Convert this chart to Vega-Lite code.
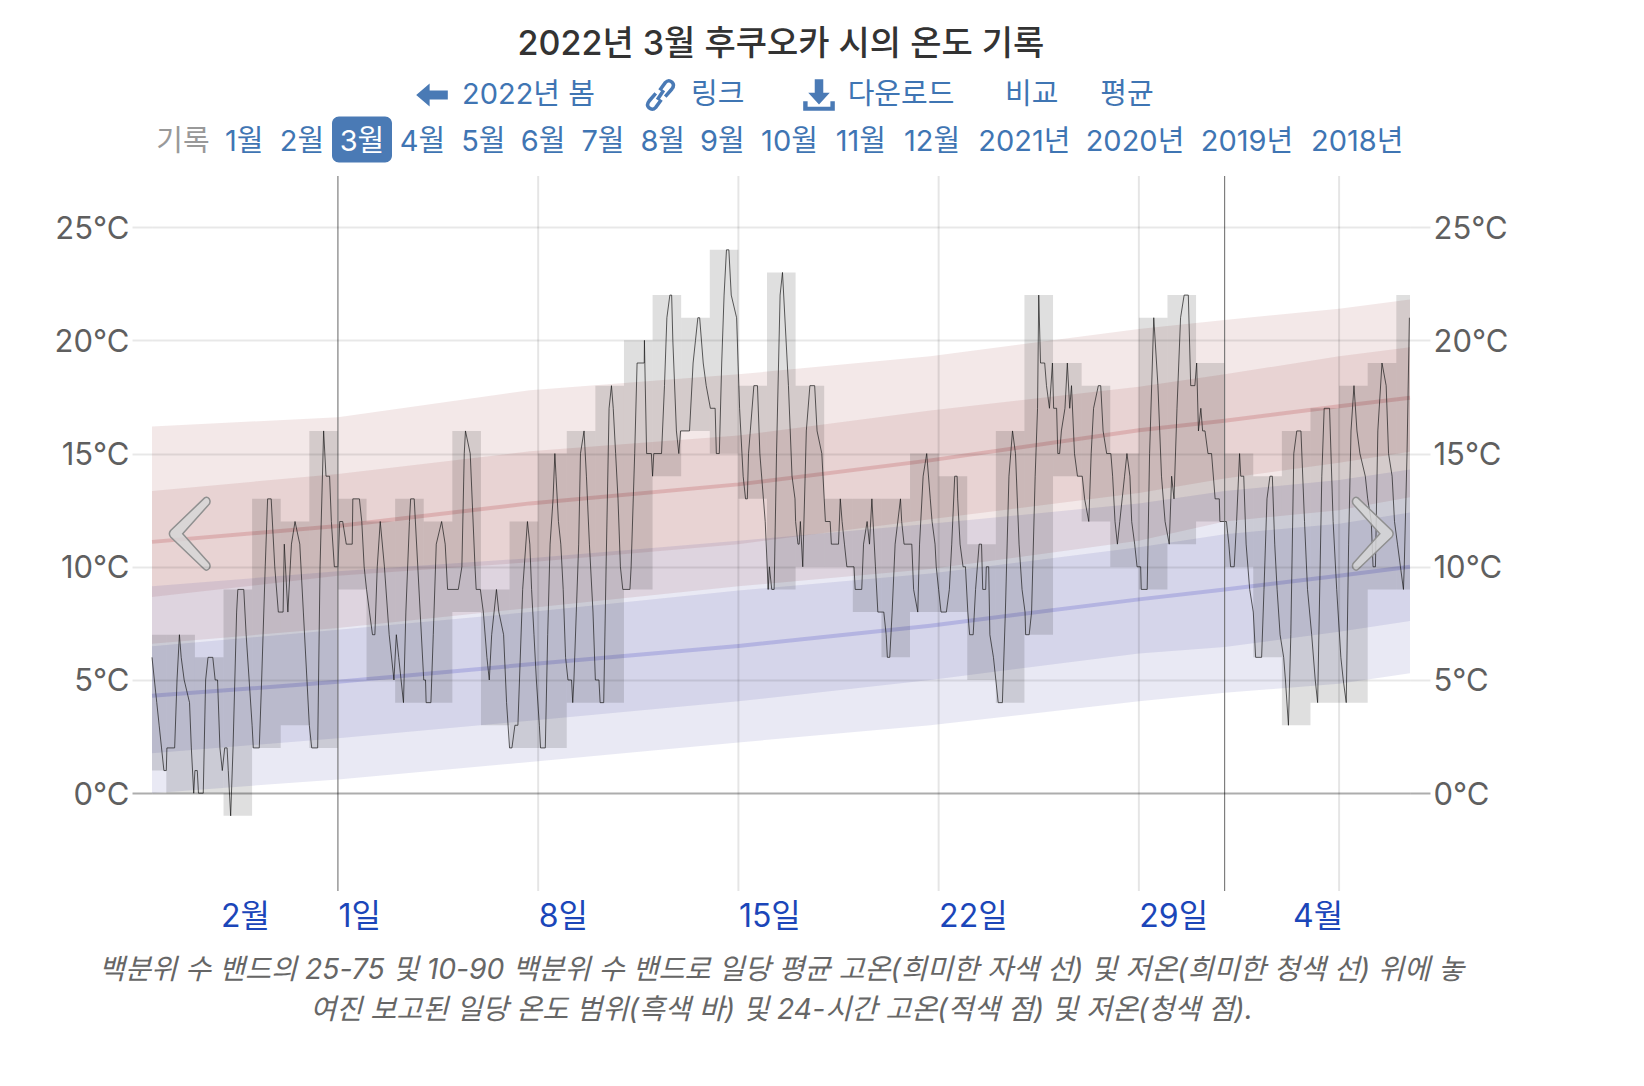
{"$schema":"https://vega.github.io/schema/vega-lite/v6.json","width":1258,"height":715,"autosize":"none","padding":{"left":152,"top":176,"right":234,"bottom":195},"background":"white","config":{"view":{"stroke":null}},
"title":{"text":"2022년 3월 후쿠오카 시의 온도 기록","font":"Inter, Noto Sans CJK KR","fontSize":34,"fontWeight":500,"color":"#333333","anchor":"middle","offset":12},
"datasets":{
"bands":[
{"t":"2022-02-22T12:00","hi10":6.6,"hi25":8.66,"hi50":11.1,"hi75":13.35,"hi90":16.2,"lo10":0,"lo25":1.76,"lo50":4.3,"lo75":6.49,"lo90":9.14},
{"t":"2022-03-01T00:00","hi10":7.3,"hi25":9.6,"hi50":11.8,"hi75":14.1,"hi90":16.6,"lo10":0.61,"lo25":2.43,"lo50":4.92,"lo75":7.22,"lo90":9.8},
{"t":"2022-03-07T17:00","hi10":8.18,"hi25":10.2,"hi50":12.8,"hi75":15.1,"hi90":17.8,"lo10":1.38,"lo25":3.2,"lo50":5.69,"lo75":8.0,"lo90":10.38},
{"t":"2022-03-15T00:00","hi10":9.14,"hi25":11.0,"hi50":13.64,"hi75":15.8,"hi90":18.5,"lo10":2.24,"lo25":4.06,"lo50":6.5,"lo75":8.95,"lo90":11.15},
{"t":"2022-03-21T17:00","hi10":9.9,"hi25":12.1,"hi50":14.7,"hi75":16.9,"hi90":19.3,"lo10":3.0,"lo25":5.0,"lo50":7.4,"lo75":9.7,"lo90":11.9},
{"t":"2022-03-29T00:00","hi10":11.15,"hi25":13.26,"hi50":16.03,"hi75":17.95,"hi90":20.5,"lo10":4.06,"lo25":6.17,"lo50":8.56,"lo75":10.86,"lo90":12.8},
{"t":"2022-04-01T00:00","hi10":12.0,"hi25":13.9,"hi50":16.45,"hi75":18.5,"hi90":20.9,"lo10":4.44,"lo25":6.46,"lo50":9.0,"lo75":11.44,"lo90":13.35},
{"t":"2022-04-05T00:00","hi10":12.5,"hi25":14.6,"hi50":17.09,"hi75":19.3,"hi90":21.4,"lo10":4.83,"lo25":7.13,"lo50":9.6,"lo75":11.9,"lo90":13.83},
{"t":"2022-04-07T11:30","hi10":13.07,"hi25":15.08,"hi50":17.47,"hi75":19.7,"hi90":21.8,"lo10":5.3,"lo25":7.6,"lo50":10.0,"lo75":12.4,"lo90":14.3}
],
"days":[
{"start":"2022-02-22T12:00","end":"2022-02-23T00:00","low":1,"high":7},
{"start":"2022-02-23T00:00","end":"2022-02-24T00:00","low":0,"high":7},
{"start":"2022-02-24T00:00","end":"2022-02-25T00:00","low":0,"high":6},
{"start":"2022-02-25T00:00","end":"2022-02-26T00:00","low":-1,"high":9},
{"start":"2022-02-26T00:00","end":"2022-02-27T00:00","low":2,"high":13},
{"start":"2022-02-27T00:00","end":"2022-02-28T00:00","low":3,"high":12},
{"start":"2022-02-28T00:00","end":"2022-03-01T00:00","low":2,"high":16},
{"start":"2022-03-01T00:00","end":"2022-03-02T00:00","low":9,"high":13},
{"start":"2022-03-02T00:00","end":"2022-03-03T00:00","low":5,"high":12},
{"start":"2022-03-03T00:00","end":"2022-03-04T00:00","low":4,"high":13},
{"start":"2022-03-04T00:00","end":"2022-03-05T00:00","low":4,"high":12},
{"start":"2022-03-05T00:00","end":"2022-03-06T00:00","low":8,"high":16},
{"start":"2022-03-06T00:00","end":"2022-03-07T00:00","low":3,"high":9},
{"start":"2022-03-07T00:00","end":"2022-03-08T00:00","low":2,"high":12},
{"start":"2022-03-08T00:00","end":"2022-03-09T00:00","low":2,"high":15},
{"start":"2022-03-09T00:00","end":"2022-03-10T00:00","low":4,"high":16},
{"start":"2022-03-10T00:00","end":"2022-03-11T00:00","low":4,"high":18},
{"start":"2022-03-11T00:00","end":"2022-03-12T00:00","low":9,"high":20},
{"start":"2022-03-12T00:00","end":"2022-03-13T00:00","low":14,"high":22},
{"start":"2022-03-13T00:00","end":"2022-03-14T00:00","low":16,"high":21},
{"start":"2022-03-14T00:00","end":"2022-03-15T00:00","low":15,"high":24},
{"start":"2022-03-15T00:00","end":"2022-03-16T00:00","low":13,"high":18},
{"start":"2022-03-16T00:00","end":"2022-03-17T00:00","low":9,"high":23},
{"start":"2022-03-17T00:00","end":"2022-03-18T00:00","low":10,"high":18},
{"start":"2022-03-18T00:00","end":"2022-03-19T00:00","low":10,"high":13},
{"start":"2022-03-19T00:00","end":"2022-03-20T00:00","low":8,"high":13},
{"start":"2022-03-20T00:00","end":"2022-03-21T00:00","low":6,"high":13},
{"start":"2022-03-21T00:00","end":"2022-03-22T00:00","low":8,"high":15},
{"start":"2022-03-22T00:00","end":"2022-03-23T00:00","low":8,"high":14},
{"start":"2022-03-23T00:00","end":"2022-03-24T00:00","low":5,"high":11},
{"start":"2022-03-24T00:00","end":"2022-03-25T00:00","low":4,"high":16},
{"start":"2022-03-25T00:00","end":"2022-03-26T00:00","low":7,"high":22},
{"start":"2022-03-26T00:00","end":"2022-03-27T00:00","low":14,"high":19},
{"start":"2022-03-27T00:00","end":"2022-03-28T00:00","low":12,"high":18},
{"start":"2022-03-28T00:00","end":"2022-03-29T00:00","low":10,"high":15},
{"start":"2022-03-29T00:00","end":"2022-03-30T00:00","low":9,"high":21},
{"start":"2022-03-30T00:00","end":"2022-03-31T00:00","low":11,"high":22},
{"start":"2022-03-31T00:00","end":"2022-04-01T00:00","low":12,"high":19},
{"start":"2022-04-01T00:00","end":"2022-04-02T00:00","low":10,"high":15},
{"start":"2022-04-02T00:00","end":"2022-04-03T00:00","low":6,"high":14},
{"start":"2022-04-03T00:00","end":"2022-04-04T00:00","low":3,"high":16},
{"start":"2022-04-04T00:00","end":"2022-04-05T00:00","low":4,"high":17},
{"start":"2022-04-05T00:00","end":"2022-04-06T00:00","low":4,"high":18},
{"start":"2022-04-06T00:00","end":"2022-04-07T00:00","low":9,"high":19},
{"start":"2022-04-07T00:00","end":"2022-04-07T11:30","low":9,"high":22}
],
"hourly":[
{"t":"2022-02-22T12:00","v":6},{"t":"2022-02-22T14:00","v":5},{"t":"2022-02-22T16:00","v":4},{"t":"2022-02-22T18:00","v":3},{"t":"2022-02-22T20:00","v":2},{"t":"2022-02-22T22:00","v":1},
{"t":"2022-02-23T00:00","v":1},{"t":"2022-02-23T00:30","v":2},{"t":"2022-02-23T07:00","v":2},{"t":"2022-02-23T09:00","v":5},{"t":"2022-02-23T11:00","v":7},{"t":"2022-02-23T12:30","v":6},{"t":"2022-02-23T15:00","v":5},{"t":"2022-02-23T19:30","v":4},{"t":"2022-02-23T21:00","v":2},{"t":"2022-02-23T23:00","v":0},
{"t":"2022-02-24T00:00","v":1},{"t":"2022-02-24T02:00","v":1},{"t":"2022-02-24T03:00","v":0},{"t":"2022-02-24T07:00","v":0},{"t":"2022-02-24T09:00","v":5},{"t":"2022-02-24T11:00","v":6},{"t":"2022-02-24T15:00","v":6},{"t":"2022-02-24T17:00","v":5},{"t":"2022-02-24T19:00","v":5},{"t":"2022-02-24T21:00","v":2},{"t":"2022-02-24T23:00","v":1},
{"t":"2022-02-25T01:00","v":2},{"t":"2022-02-25T03:00","v":2},{"t":"2022-02-25T04:00","v":1},{"t":"2022-02-25T06:00","v":-1},{"t":"2022-02-25T08:00","v":2},{"t":"2022-02-25T11:00","v":8},{"t":"2022-02-25T12:00","v":9},{"t":"2022-02-25T17:00","v":9},{"t":"2022-02-25T19:00","v":7},{"t":"2022-02-25T21:30","v":5},
{"t":"2022-02-26T00:00","v":3},{"t":"2022-02-26T01:00","v":2},{"t":"2022-02-26T06:00","v":2},{"t":"2022-02-26T08:00","v":5},{"t":"2022-02-26T11:00","v":10},{"t":"2022-02-26T13:00","v":13},{"t":"2022-02-26T16:00","v":13},{"t":"2022-02-26T19:00","v":10},{"t":"2022-02-26T22:00","v":8},
{"t":"2022-02-27T02:00","v":8},{"t":"2022-02-27T03:00","v":11},{"t":"2022-02-27T06:00","v":8},{"t":"2022-02-27T09:00","v":11},{"t":"2022-02-27T12:00","v":12},{"t":"2022-02-27T16:00","v":11},{"t":"2022-02-27T19:00","v":8},{"t":"2022-02-27T22:00","v":5},
{"t":"2022-02-28T00:00","v":3},{"t":"2022-02-28T02:00","v":2},{"t":"2022-02-28T07:00","v":2},{"t":"2022-02-28T09:00","v":10},{"t":"2022-02-28T12:00","v":16},{"t":"2022-02-28T14:00","v":14},{"t":"2022-02-28T17:00","v":14},{"t":"2022-02-28T18:30","v":12},{"t":"2022-02-28T21:00","v":10},
{"t":"2022-03-01T00:00","v":10},{"t":"2022-03-01T01:30","v":12},{"t":"2022-03-01T04:00","v":12},{"t":"2022-03-01T07:00","v":11},{"t":"2022-03-01T12:00","v":11},{"t":"2022-03-01T12:30","v":13},{"t":"2022-03-01T18:00","v":13},{"t":"2022-03-01T20:00","v":12},{"t":"2022-03-01T22:00","v":10},
{"t":"2022-03-02T00:00","v":9},{"t":"2022-03-02T02:30","v":8},{"t":"2022-03-02T05:00","v":7},{"t":"2022-03-02T07:00","v":7},{"t":"2022-03-02T09:00","v":10},{"t":"2022-03-02T11:30","v":12},{"t":"2022-03-02T15:00","v":10},{"t":"2022-03-02T19:00","v":7},{"t":"2022-03-02T23:00","v":5},
{"t":"2022-03-03T01:00","v":7},{"t":"2022-03-03T03:00","v":6},{"t":"2022-03-03T07:00","v":4},{"t":"2022-03-03T09:00","v":8},{"t":"2022-03-03T12:00","v":12},{"t":"2022-03-03T13:00","v":13},{"t":"2022-03-03T16:00","v":13},{"t":"2022-03-03T19:00","v":10},
{"t":"2022-03-04T00:00","v":5},{"t":"2022-03-04T01:30","v":5},{"t":"2022-03-04T02:00","v":4},{"t":"2022-03-04T06:00","v":4},{"t":"2022-03-04T08:00","v":7},{"t":"2022-03-04T10:30","v":11},{"t":"2022-03-04T15:00","v":12},{"t":"2022-03-04T18:00","v":11},{"t":"2022-03-04T20:00","v":9},
{"t":"2022-03-05T05:00","v":9},{"t":"2022-03-05T08:00","v":10},{"t":"2022-03-05T10:00","v":15},{"t":"2022-03-05T11:00","v":16},{"t":"2022-03-05T15:00","v":15},{"t":"2022-03-05T19:00","v":10},{"t":"2022-03-05T20:00","v":9},{"t":"2022-03-05T23:30","v":9},
{"t":"2022-03-06T02:00","v":8},{"t":"2022-03-06T05:00","v":6},{"t":"2022-03-06T07:00","v":5},{"t":"2022-03-06T09:00","v":7},{"t":"2022-03-06T13:00","v":9},{"t":"2022-03-06T15:00","v":8},{"t":"2022-03-06T19:00","v":7},{"t":"2022-03-06T21:30","v":4},
{"t":"2022-03-07T00:00","v":2},{"t":"2022-03-07T02:00","v":2},{"t":"2022-03-07T04:30","v":3},{"t":"2022-03-07T07:00","v":3},{"t":"2022-03-07T11:00","v":9},{"t":"2022-03-07T15:00","v":12},{"t":"2022-03-07T17:00","v":11},{"t":"2022-03-07T18:30","v":9},{"t":"2022-03-07T20:30","v":7},{"t":"2022-03-07T22:30","v":5},
{"t":"2022-03-08T01:00","v":3},{"t":"2022-03-08T02:00","v":2},{"t":"2022-03-08T06:00","v":2},{"t":"2022-03-08T08:00","v":7},{"t":"2022-03-08T10:00","v":11},{"t":"2022-03-08T12:30","v":13},{"t":"2022-03-08T14:00","v":15},{"t":"2022-03-08T15:00","v":14},{"t":"2022-03-08T17:00","v":12},{"t":"2022-03-08T19:00","v":11},{"t":"2022-03-08T21:00","v":9},{"t":"2022-03-08T23:00","v":6},
{"t":"2022-03-09T01:00","v":5},{"t":"2022-03-09T04:00","v":5},{"t":"2022-03-09T05:00","v":4},{"t":"2022-03-09T06:00","v":5},{"t":"2022-03-09T08:00","v":8},{"t":"2022-03-09T10:00","v":11},{"t":"2022-03-09T11:30","v":15},{"t":"2022-03-09T14:30","v":16},{"t":"2022-03-09T16:30","v":14},{"t":"2022-03-09T19:00","v":11},{"t":"2022-03-09T22:00","v":8},
{"t":"2022-03-10T00:00","v":5},{"t":"2022-03-10T03:00","v":5},{"t":"2022-03-10T04:00","v":4},{"t":"2022-03-10T07:00","v":4},{"t":"2022-03-10T09:00","v":10},{"t":"2022-03-10T11:30","v":17},{"t":"2022-03-10T13:30","v":18},{"t":"2022-03-10T15:00","v":17},{"t":"2022-03-10T17:00","v":15},{"t":"2022-03-10T19:00","v":13},{"t":"2022-03-10T21:00","v":10},{"t":"2022-03-10T23:00","v":9},
{"t":"2022-03-11T05:00","v":9},{"t":"2022-03-11T06:00","v":10},{"t":"2022-03-11T09:00","v":15},{"t":"2022-03-11T11:00","v":19},{"t":"2022-03-11T17:00","v":19},{"t":"2022-03-11T17:10","v":20},{"t":"2022-03-11T17:30","v":19},{"t":"2022-03-11T19:00","v":15},{"t":"2022-03-11T23:00","v":15},
{"t":"2022-03-12T00:00","v":14},{"t":"2022-03-12T01:00","v":15},{"t":"2022-03-12T07:30","v":15},{"t":"2022-03-12T10:00","v":18},{"t":"2022-03-12T12:00","v":21},{"t":"2022-03-12T14:30","v":22},{"t":"2022-03-12T16:00","v":22},{"t":"2022-03-12T17:00","v":20},{"t":"2022-03-12T20:00","v":16},{"t":"2022-03-12T22:00","v":15},{"t":"2022-03-12T23:30","v":16},
{"t":"2022-03-13T07:00","v":16},{"t":"2022-03-13T10:00","v":19},{"t":"2022-03-13T12:00","v":20},{"t":"2022-03-13T14:00","v":21},{"t":"2022-03-13T15:30","v":21},{"t":"2022-03-13T18:30","v":19},{"t":"2022-03-13T21:00","v":18},
{"t":"2022-03-14T00:30","v":17},{"t":"2022-03-14T04:30","v":17},{"t":"2022-03-14T05:30","v":15},{"t":"2022-03-14T08:00","v":15},{"t":"2022-03-14T10:00","v":19},{"t":"2022-03-14T12:00","v":22},{"t":"2022-03-14T14:00","v":24},{"t":"2022-03-14T16:00","v":24},{"t":"2022-03-14T18:00","v":22},{"t":"2022-03-14T22:30","v":21},
{"t":"2022-03-15T01:00","v":17},{"t":"2022-03-15T03:00","v":15},{"t":"2022-03-15T04:00","v":14},{"t":"2022-03-15T06:00","v":13},{"t":"2022-03-15T07:30","v":13},{"t":"2022-03-15T08:30","v":15},{"t":"2022-03-15T10:00","v":16},{"t":"2022-03-15T13:00","v":18},{"t":"2022-03-15T16:00","v":18},{"t":"2022-03-15T18:00","v":15},{"t":"2022-03-15T21:00","v":13},{"t":"2022-03-15T22:30","v":12},
{"t":"2022-03-16T01:00","v":9},{"t":"2022-03-16T02:00","v":10},{"t":"2022-03-16T04:00","v":9},{"t":"2022-03-16T06:00","v":9},{"t":"2022-03-16T08:00","v":15},{"t":"2022-03-16T11:00","v":22},{"t":"2022-03-16T13:00","v":23},{"t":"2022-03-16T16:00","v":20},{"t":"2022-03-16T18:00","v":18},{"t":"2022-03-16T21:00","v":14},{"t":"2022-03-16T23:30","v":13},
{"t":"2022-03-17T00:00","v":12},{"t":"2022-03-17T02:00","v":11},{"t":"2022-03-17T03:00","v":11},{"t":"2022-03-17T04:00","v":12},{"t":"2022-03-17T06:00","v":10},{"t":"2022-03-17T08:00","v":14},{"t":"2022-03-17T09:00","v":16},{"t":"2022-03-17T12:00","v":18},{"t":"2022-03-17T16:00","v":18},{"t":"2022-03-17T18:00","v":16},{"t":"2022-03-17T22:00","v":15},
{"t":"2022-03-18T00:00","v":13},{"t":"2022-03-18T01:00","v":12},{"t":"2022-03-18T05:00","v":12},{"t":"2022-03-18T06:00","v":11},{"t":"2022-03-18T12:00","v":11},{"t":"2022-03-18T13:30","v":13},{"t":"2022-03-18T15:00","v":12},{"t":"2022-03-18T17:00","v":11},{"t":"2022-03-18T19:00","v":10},
{"t":"2022-03-19T01:00","v":10},{"t":"2022-03-19T02:00","v":9},{"t":"2022-03-19T07:30","v":9},{"t":"2022-03-19T09:00","v":11},{"t":"2022-03-19T12:00","v":12},{"t":"2022-03-19T14:00","v":11},{"t":"2022-03-19T16:00","v":13},{"t":"2022-03-19T19:00","v":10},{"t":"2022-03-19T21:00","v":8},
{"t":"2022-03-20T02:00","v":8},{"t":"2022-03-20T04:00","v":7},{"t":"2022-03-20T05:00","v":6},{"t":"2022-03-20T07:00","v":6},{"t":"2022-03-20T09:00","v":8},{"t":"2022-03-20T11:30","v":11},{"t":"2022-03-20T16:00","v":13},{"t":"2022-03-20T17:00","v":12},{"t":"2022-03-20T19:00","v":11},
{"t":"2022-03-21T01:30","v":11},{"t":"2022-03-21T03:00","v":9},{"t":"2022-03-21T06:30","v":8},{"t":"2022-03-21T08:00","v":11},{"t":"2022-03-21T11:00","v":14},{"t":"2022-03-21T14:00","v":15},{"t":"2022-03-21T17:00","v":13},{"t":"2022-03-21T18:30","v":12},{"t":"2022-03-21T21:00","v":11},{"t":"2022-03-21T22:00","v":10},
{"t":"2022-03-22T00:00","v":9},{"t":"2022-03-22T02:00","v":8},{"t":"2022-03-22T06:30","v":8},{"t":"2022-03-22T09:00","v":9},{"t":"2022-03-22T11:00","v":11},{"t":"2022-03-22T13:30","v":14},{"t":"2022-03-22T15:30","v":14},{"t":"2022-03-22T16:00","v":13},{"t":"2022-03-22T18:00","v":11},{"t":"2022-03-22T20:30","v":10},{"t":"2022-03-22T22:30","v":10},
{"t":"2022-03-23T00:30","v":8},{"t":"2022-03-23T02:00","v":7},{"t":"2022-03-23T05:00","v":7},{"t":"2022-03-23T07:00","v":9},{"t":"2022-03-23T10:00","v":11},{"t":"2022-03-23T12:00","v":11},{"t":"2022-03-23T13:00","v":9},{"t":"2022-03-23T15:30","v":9},{"t":"2022-03-23T16:00","v":10},{"t":"2022-03-23T18:00","v":10},{"t":"2022-03-23T19:00","v":7},{"t":"2022-03-23T22:00","v":6},
{"t":"2022-03-24T00:00","v":5},{"t":"2022-03-24T02:00","v":4},{"t":"2022-03-24T05:30","v":4},{"t":"2022-03-24T08:00","v":8},{"t":"2022-03-24T11:00","v":14},{"t":"2022-03-24T14:00","v":16},{"t":"2022-03-24T16:30","v":15},{"t":"2022-03-24T19:30","v":11},{"t":"2022-03-24T22:00","v":9},
{"t":"2022-03-25T00:30","v":8},{"t":"2022-03-25T01:00","v":7},{"t":"2022-03-25T04:00","v":7},{"t":"2022-03-25T06:00","v":8},{"t":"2022-03-25T09:00","v":14},{"t":"2022-03-25T11:00","v":17},{"t":"2022-03-25T12:00","v":22},{"t":"2022-03-25T13:30","v":19},{"t":"2022-03-25T17:00","v":19},{"t":"2022-03-25T18:30","v":18},{"t":"2022-03-25T21:00","v":17},{"t":"2022-03-25T23:30","v":19},
{"t":"2022-03-26T00:30","v":17},{"t":"2022-03-26T03:00","v":17},{"t":"2022-03-26T04:00","v":15},{"t":"2022-03-26T05:30","v":15},{"t":"2022-03-26T07:00","v":16},{"t":"2022-03-26T10:00","v":17},{"t":"2022-03-26T12:00","v":19},{"t":"2022-03-26T14:00","v":17},{"t":"2022-03-26T15:30","v":18},{"t":"2022-03-26T18:00","v":15},{"t":"2022-03-26T20:30","v":14},
{"t":"2022-03-27T00:30","v":14},{"t":"2022-03-27T02:30","v":13},{"t":"2022-03-27T06:00","v":12},{"t":"2022-03-27T08:00","v":15},{"t":"2022-03-27T10:00","v":17},{"t":"2022-03-27T14:00","v":18},{"t":"2022-03-27T16:00","v":18},{"t":"2022-03-27T18:00","v":16},{"t":"2022-03-27T21:00","v":15},
{"t":"2022-03-28T00:30","v":15},{"t":"2022-03-28T02:00","v":14},{"t":"2022-03-28T04:00","v":12},{"t":"2022-03-28T06:00","v":11},{"t":"2022-03-28T08:00","v":12},{"t":"2022-03-28T10:00","v":13},{"t":"2022-03-28T12:00","v":14},{"t":"2022-03-28T14:00","v":15},{"t":"2022-03-28T16:30","v":14},{"t":"2022-03-28T18:00","v":12},{"t":"2022-03-28T20:30","v":11},{"t":"2022-03-28T22:30","v":10},
{"t":"2022-03-29T01:30","v":10},{"t":"2022-03-29T02:00","v":9},{"t":"2022-03-29T07:00","v":9},{"t":"2022-03-29T09:00","v":15},{"t":"2022-03-29T12:30","v":21},{"t":"2022-03-29T16:00","v":18},{"t":"2022-03-29T19:00","v":14},{"t":"2022-03-29T22:00","v":12},
{"t":"2022-03-30T01:30","v":11},{"t":"2022-03-30T03:30","v":14},{"t":"2022-03-30T05:30","v":13},{"t":"2022-03-30T08:00","v":17},{"t":"2022-03-30T11:00","v":21},{"t":"2022-03-30T14:00","v":22},{"t":"2022-03-30T17:30","v":22},{"t":"2022-03-30T19:30","v":18},{"t":"2022-03-30T23:00","v":18},
{"t":"2022-03-31T00:30","v":19},{"t":"2022-03-31T02:00","v":16},{"t":"2022-03-31T04:00","v":17},{"t":"2022-03-31T05:30","v":16},{"t":"2022-03-31T07:30","v":16},{"t":"2022-03-31T10:00","v":15},{"t":"2022-03-31T13:00","v":15},{"t":"2022-03-31T16:00","v":13},{"t":"2022-03-31T19:30","v":13},{"t":"2022-03-31T20:00","v":12},
{"t":"2022-04-01T01:30","v":12},{"t":"2022-04-01T03:30","v":11},{"t":"2022-04-01T05:00","v":10},{"t":"2022-04-01T08:00","v":10},{"t":"2022-04-01T10:00","v":12},{"t":"2022-04-01T12:30","v":15},{"t":"2022-04-01T13:30","v":14},{"t":"2022-04-01T16:00","v":14},{"t":"2022-04-01T18:00","v":11},{"t":"2022-04-01T21:00","v":9},
{"t":"2022-04-02T00:00","v":8},{"t":"2022-04-02T02:00","v":6},{"t":"2022-04-02T07:00","v":6},{"t":"2022-04-02T09:00","v":9},{"t":"2022-04-02T11:30","v":13},{"t":"2022-04-02T14:00","v":14},{"t":"2022-04-02T16:00","v":14},{"t":"2022-04-02T18:00","v":11},{"t":"2022-04-02T20:00","v":9},{"t":"2022-04-02T22:30","v":7},
{"t":"2022-04-03T01:30","v":6},{"t":"2022-04-03T03:00","v":5},{"t":"2022-04-03T05:30","v":3},{"t":"2022-04-03T07:30","v":7},{"t":"2022-04-03T10:00","v":15},{"t":"2022-04-03T12:30","v":16},{"t":"2022-04-03T16:00","v":16},{"t":"2022-04-03T19:00","v":12},{"t":"2022-04-03T21:30","v":9},
{"t":"2022-04-04T01:00","v":7},{"t":"2022-04-04T04:00","v":5},{"t":"2022-04-04T06:00","v":4},{"t":"2022-04-04T09:30","v":14},{"t":"2022-04-04T11:30","v":17},{"t":"2022-04-04T16:00","v":17},{"t":"2022-04-04T19:00","v":12},{"t":"2022-04-04T22:00","v":9},
{"t":"2022-04-05T01:30","v":6},{"t":"2022-04-05T03:30","v":5},{"t":"2022-04-05T06:00","v":4},{"t":"2022-04-05T08:00","v":11},{"t":"2022-04-05T10:00","v":16},{"t":"2022-04-05T12:30","v":18},{"t":"2022-04-05T15:00","v":16},{"t":"2022-04-05T17:30","v":15},{"t":"2022-04-05T22:00","v":14},
{"t":"2022-04-06T00:00","v":13},{"t":"2022-04-06T03:00","v":12},{"t":"2022-04-06T04:30","v":10},{"t":"2022-04-06T06:30","v":10},{"t":"2022-04-06T08:30","v":16},{"t":"2022-04-06T12:00","v":19},{"t":"2022-04-06T15:30","v":18},{"t":"2022-04-06T17:30","v":15},{"t":"2022-04-06T20:30","v":14},{"t":"2022-04-06T22:30","v":12},
{"t":"2022-04-07T01:00","v":11},{"t":"2022-04-07T03:30","v":10},{"t":"2022-04-07T06:00","v":9},{"t":"2022-04-07T06:40","v":10},{"t":"2022-04-07T09:00","v":15},{"t":"2022-04-07T11:00","v":21}
],
"weeks":[{"t":"2022-03-08T00:00"},{"t":"2022-03-15T00:00"},{"t":"2022-03-22T00:00"},{"t":"2022-03-29T00:00"},{"t":"2022-04-05T00:00"}],
"months":[{"t":"2022-03-01T00:00"},{"t":"2022-04-01T00:00"}],
"nav":[
{"label":"기록","order":0,"row":2,"kind":"muted"},{"label":"1월","order":1,"row":2,"kind":"link"},{"label":"2월","order":2,"row":2,"kind":"link"},{"label":"3월","order":3,"row":2,"kind":"active"},{"label":"4월","order":4,"row":2,"kind":"link"},{"label":"2022년 봄","order":5,"row":1,"kind":"link"},{"label":"5월","order":6,"row":2,"kind":"link"},{"label":"6월","order":7,"row":2,"kind":"link"},{"label":"7월","order":8,"row":2,"kind":"link"},{"label":"8월","order":10,"row":2,"kind":"link"},{"label":"링크","order":11,"row":1,"kind":"link"},{"label":"9월","order":12,"row":2,"kind":"link"},{"label":"10월","order":13,"row":2,"kind":"link"},{"label":"11월","order":15,"row":2,"kind":"link"},{"label":"다운로드","order":16,"row":1,"kind":"link"},{"label":"12월","order":17,"row":2,"kind":"link"},{"label":"2021년","order":18,"row":2,"kind":"link"},{"label":"비교","order":19,"row":1,"kind":"link"},{"label":"평균","order":20,"row":1,"kind":"link"},{"label":"2020년","order":21,"row":2,"kind":"link"},{"label":"2019년","order":22,"row":2,"kind":"link"},{"label":"2018년","order":24,"row":2,"kind":"link"}
],
"icons":[{"icon":"arrow","order":-0.5,"row":1},{"icon":"download","order":14,"row":1}],
"linkIcon":[{"icon":"link","order":9,"row":1}],
"chevrons":[{"icon":"prev","order":-1,"row":3},{"icon":"next","order":23,"row":3}]
},
"resolve":{"scale":{"x":"independent","y":"independent"}},
"layer":[
{"encoding":{
"x":{"field":"t","type":"temporal","scale":{"domain":["2022-02-22T12:00:00","2022-04-07T11:30:00"],"nice":false}},
"y":{"type":"quantitative","scale":{"domain":[-4.32,27.26],"nice":false,"zero":false},"title":null}
},
"layer":[
{"data":{"name":"bands"},"mark":{"type":"area","color":"#932f2f","opacity":0.11},"encoding":{"x":{"field":"t","type":"temporal","axis":{"orient":"bottom","values":["2022-02-25T18:00:00","2022-03-01T00:00:00","2022-03-08T00:00:00","2022-03-15T00:00:00","2022-03-22T00:00:00","2022-03-29T00:00:00","2022-04-04T06:00:00"],"labelExpr":"month(datum.value)==2 ? date(datum.value)+'일' : (month(datum.value)+1)+'월'","labelAlign":{"condition":{"test":"month(datum.value)==2","value":"left"},"value":"center"},"labelBaseline":"top","labelFont":"Inter, Noto Sans CJK KR","labelFontSize":32,"labelColor":"#1b46b9","labelPadding":10,"labelOverlap":false,"labelBound":false,"labelFlush":false,"ticks":false,"tickSize":0,"domain":false,"grid":false,"title":["백분위 수 밴드의 25-75 및 10-90 백분위 수 밴드로 일당 평균 고온(희미한 자색 선) 및 저온(희미한 청색 선) 위에 놓","여진 보고된 일당 온도 범위(흑색 바) 및 24-시간 고온(적색 점) 및 저온(청색 점)."],"titleFont":"Inter, Noto Sans CJK KR","titleFontSize":28.3,"titleFontStyle":"italic","titleFontWeight":"normal","titleColor":"#666666","titlePadding":24,"titleLineHeight":40}},"y":{"field":"hi10","type":"quantitative","axis":{"orient":"left","values":[0,5,10,15,20,25],"labelExpr":"datum.value+'°C'","labelFont":"Inter","labelFontSize":31,"labelColor":"#5f5f5f","labelPadding":3,"labelOffset":2,"tickSize":20,"domain":false,"grid":true,"zindex":1,"gridColor":{"condition":{"test":"datum.value===0","value":"rgba(0,0,0,0.32)"},"value":"rgba(0,0,0,0.09)"},"gridWidth":2,"tickColor":{"condition":{"test":"datum.value===0","value":"rgba(0,0,0,0.32)"},"value":"rgba(0,0,0,0.09)"},"tickWidth":2,"title":null}},"y2":{"field":"hi90"}}},
{"data":{"name":"bands"},"mark":{"type":"area","color":"#932f2f","opacity":0.11},"encoding":{"y":{"field":"hi25","type":"quantitative"},"y2":{"field":"hi75"}}},
{"data":{"name":"bands"},"mark":{"type":"area","color":"#2f2f9b","opacity":0.105},"encoding":{"y":{"field":"lo10","type":"quantitative"},"y2":{"field":"lo90"}}},
{"data":{"name":"bands"},"mark":{"type":"area","color":"#2f2f9b","opacity":0.105},"encoding":{"y":{"field":"lo25","type":"quantitative"},"y2":{"field":"lo75"}}},
{"data":{"name":"bands"},"mark":{"type":"line","color":"#b02c30","opacity":0.2,"strokeWidth":4},"encoding":{"y":{"field":"hi50","type":"quantitative"}}},
{"data":{"name":"bands"},"mark":{"type":"line","color":"#3030c0","opacity":0.2,"strokeWidth":4},"encoding":{"y":{"field":"lo50","type":"quantitative"}}},
{"data":{"name":"days"},"mark":{"type":"rect","color":"#000000","opacity":0.125},"encoding":{"x":{"field":"start","type":"temporal"},"x2":{"field":"end"},"y":{"field":"low","type":"quantitative"},"y2":{"field":"high"}}},
{"data":{"name":"hourly"},"mark":{"type":"line","color":"#1a1a1a","strokeWidth":0.7,"interpolate":"linear"},"encoding":{"y":{"field":"v","type":"quantitative"}}},
{"data":{"name":"weeks"},"mark":{"type":"rule","color":"#000000","opacity":0.1,"strokeWidth":2},"encoding":{"x":{"field":"t","type":"temporal"}}},
{"data":{"name":"months"},"mark":{"type":"rule","color":"#666666","strokeWidth":1},"encoding":{"x":{"field":"t","type":"temporal"}}}
]},
{"data":{"name":"weeks"},"mark":{"type":"rule","opacity":0},"encoding":{"y":{"datum":0,"type":"quantitative","scale":{"domain":[-4.32,27.26],"nice":false,"zero":false},"axis":{"orient":"right","values":[0,5,10,15,20,25],"labelExpr":"datum.value+'°C'","labelFont":"Inter","labelFontSize":31,"labelColor":"#5f5f5f","labelPadding":3,"labelOffset":2,"tickSize":20,"domain":false,"grid":false,"tickColor":{"condition":{"test":"datum.value===0","value":"rgba(0,0,0,0.32)"},"value":"rgba(0,0,0,0.09)"},"tickWidth":2,"title":null}}}},
{"encoding":{
"x":{"field":"order","type":"quantitative","axis":null,"title":null,"scale":{"domain":[-1,-0.5,0,1,2,3,4,5,6,7,8,9,10,11,12,13,14,15,16,17,18,19,20,21,22,23,24],"range":[38,280,31,92.3,150,210,270.5,376.4,331.4,391,451,508.5,510.7,565.7,570.4,637.5,667,708.8,749,780,872.4,879.7,975,983,1095,1220.5,1205.3],"nice":false,"zero":false}},
"y":{"field":"row","type":"quantitative","axis":null,"title":null,"scale":{"domain":[1,2,3],"range":[-81,-34.5,357.7],"nice":false,"zero":false}}
},
"layer":[
{"data":{"name":"nav"},"transform":[{"filter":"datum.kind==='active'"}],"mark":{"type":"rect","color":"#4a7ab5","width":60,"height":46,"cornerRadius":7,"yOffset":-2}},
{"data":{"name":"nav"},"mark":{"type":"text","font":"Inter, Noto Sans CJK KR","fontSize":29,"align":"center","baseline":"middle"},"encoding":{"text":{"field":"label"},"color":{"field":"kind","type":"nominal","scale":{"domain":["muted","link","active"],"range":["#999999","#3f75b3","#ffffff"]},"legend":null}}},
{"data":{"name":"icons"},"mark":{"type":"point","filled":true,"opacity":1,"size":1000,"color":"#4a7ab5"},"encoding":{"shape":{"field":"icon","type":"nominal","legend":null,"scale":{"domain":["arrow","download","prev","next"],"range":["M-1,0 L-0.15,-0.72 L-0.15,-0.28 L1,-0.28 L1,0.28 L-0.15,0.28 L-0.15,0.72 Z","M-0.27,-1 L0.27,-1 L0.27,-0.15 L0.68,-0.15 L0,0.6 L-0.68,-0.15 L-0.27,-0.15 Z M-1,0.4 L-0.72,0.4 L-0.72,0.75 L0.72,0.75 L0.72,0.4 L1,0.4 L1,1 L-1,1 Z","M0.4,-0.98 Q0.47,-1.03 0.53,-0.95 Q0.58,-0.85 0.5,-0.78 L-0.2,0 L0.5,0.78 Q0.58,0.85 0.53,0.95 Q0.47,1.03 0.4,0.98 L-0.53,0.09 Q-0.6,0 -0.53,-0.09 Z","M-0.4,-0.98 Q-0.47,-1.03 -0.53,-0.95 Q-0.58,-0.85 -0.5,-0.78 L0.2,0 L-0.5,0.78 Q-0.58,0.85 -0.53,0.95 Q-0.47,1.03 -0.4,0.98 L0.53,0.09 Q0.6,0 0.53,-0.09 Z"]}}}},
{"data":{"name":"linkIcon"},"mark":{"type":"point","filled":false,"opacity":1,"size":1000,"color":"#4a7ab5","strokeWidth":3.5,"shape":"M-0.05,-0.3 L0.3,-0.78 Q0.5,-1 0.72,-0.82 Q0.92,-0.62 0.72,-0.38 L0.3,0.1 M0.05,0.3 L-0.3,0.78 Q-0.5,1 -0.72,0.82 Q-0.92,0.62 -0.72,0.38 L-0.3,-0.1 M0.2,-0.3 L-0.2,0.3"}},
{"data":{"name":"chevrons"},"mark":{"type":"point","filled":true,"size":5329,"fill":"#d6d6d6","fillOpacity":0.85,"stroke":"#909090","strokeWidth":1.5,"strokeOpacity":1,"opacity":1},"encoding":{"shape":{"field":"icon","type":"nominal","legend":null}}}
]}
]}
